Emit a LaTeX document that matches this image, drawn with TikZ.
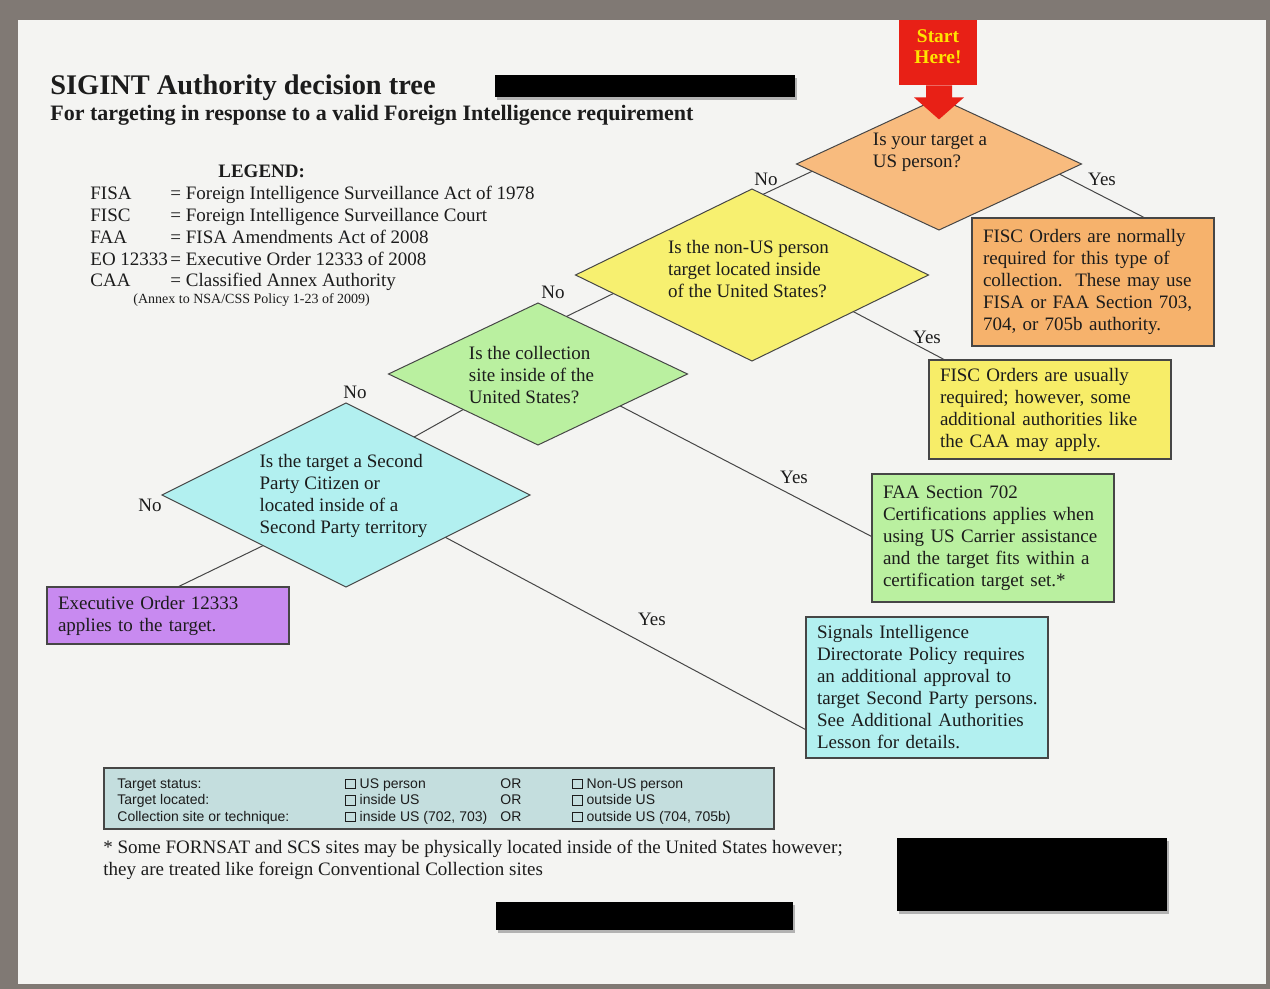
\documentclass[tikz,border=0pt]{standalone}
\usepackage{fontspec}
\setmainfont{Liberation Serif}
\setsansfont{Liberation Sans}
\usepackage{xcolor}
\definecolor{framegray}{RGB}{128,121,116}
\definecolor{paper}{RGB}{244,244,242}
\definecolor{ink}{RGB}{28,28,28}
\definecolor{edgegray}{RGB}{70,70,70}
\definecolor{qorange}{RGB}{248,187,126}
\definecolor{aorange}{RGB}{246,178,108}
\definecolor{qyellow}{RGB}{247,240,112}
\definecolor{ayellow}{RGB}{247,237,104}
\definecolor{qgreen}{RGB}{186,240,160}
\definecolor{qcyan}{RGB}{178,240,240}
\definecolor{apurple}{RGB}{200,138,240}
\definecolor{tablegray}{RGB}{196,222,222}
\definecolor{startred}{RGB}{232,32,22}
\definecolor{startyellow}{RGB}{255,228,0}
\usepackage{tikz}
\usetikzlibrary{calc}
\usetikzlibrary{shapes.geometric}
\newcommand{\bodyfont}{\fontsize{9.5}{11}\selectfont}
\newcommand{\tickbox}{{\setlength{\fboxsep}{0pt}\setlength{\fboxrule}{0.5pt}\fbox{\rule{0pt}{4.2pt}\rule{4.2pt}{0pt}}}}
\tikzset{
    txt/.style={font=\bodyfont, text=ink, inner sep=0pt},
    question/.style={draw=edgegray, line width=0.5pt, diamond, inner sep=0pt, outer sep=0pt},
    qtext/.style={txt, align=left},
    answer/.style={txt, draw=edgegray, line width=0.8pt, rectangle, anchor=north west, align=left, text width=110pt, inner xsep=5.5pt, outer sep=0pt},
    branch/.style={draw=edgegray, line width=0.5pt},
    yesno/.style={txt},
    rowtext/.style={font=\sffamily\fontsize{7}{8}\selectfont, text=ink, inner sep=0pt, anchor=base west},
    redact/.style={fill=black},
    redactshadow/.style={fill=black!30},
}

\begin{document}
\begin{tikzpicture}[x=0.5pt, y=-0.5pt]
    \useasboundingbox (0,0) rectangle (1270,989);
    \fill[framegray] (0,0) rectangle (1270,989);
    \fill[paper] (18,20) rectangle (1266,984);

    % heading and legend
    \node[txt, anchor=base west, font={\fontsize{14.2}{16}\selectfont\bfseries}] (title) at (50,95) {SIGINT Authority decision tree};
    \node[txt, anchor=base west, font={\fontsize{11}{13}\selectfont\bfseries}] (subtitle) at (50,121) {For targeting in response to a valid Foreign Intelligence requirement};
    \node[txt, anchor=base west, font={\bodyfont\bfseries}] (legend) at (218,178) {LEGEND:};
    \foreach \abbr/\full [count=\i] in {FISA/Foreign Intelligence Surveillance Act of 1978, FISC/Foreign Intelligence Surveillance Court, FAA/FISA Amendments Act of 2008, EO 12333/Executive Order 12333 of 2008, CAA/Classified Annex Authority}
    {
        \node[txt, anchor=base west] (abbr\i) at (90,{178+21.8*\i}) {\abbr};
        \node[txt, anchor=base west] (full\i) at (170,{178+21.8*\i}) {= \full};
    }
    \node[txt, anchor=base west, font=\fontsize{7}{8}\selectfont] (annex) at (133,304) {(Annex to NSA/CSS Policy 1-23 of 2009)};

    % redactions
    \fill[redactshadow] (497,78) rectangle (797,100);
    \fill[redact] (495,75) rectangle (795,97);
    \fill[redactshadow] (899,841) rectangle (1169,914);
    \fill[redact] (897,838) rectangle (1167,911);
    \fill[redactshadow] (498,905) rectangle (795,933);
    \fill[redact] (496,902) rectangle (793,930);

    % questions
    \node[question, fill=qorange, minimum width=142.5pt, minimum height=66pt] (d1) at (939,164) {};
    \node[qtext] (q1) at (930,152) {Is your target a\\US person?};
    \node[question, fill=qyellow, minimum width=176.5pt, minimum height=86pt] (d2) at (752,275) {};
    \node[qtext] (q2) at (748.5,269) {Is the non-US person\\target located inside\\of the United States?};
    \node[question, fill=qgreen, minimum width=149.5pt, minimum height=71pt] (d3) at (538,374) {};
    \node[qtext] (q3) at (531.5,375) {Is the collection\\site inside of the\\United States?};
    \node[question, fill=qcyan, minimum width=184pt, minimum height=92pt] (d4) at (346,495) {};
    \node[qtext] (q4) at (343.5,496) {Is the target a Second\\Party Citizen or\\located inside of a\\Second Party territory};

    % start marker
    \node[fill=startred, minimum width=39pt, minimum height=32.5pt, inner sep=0pt, align=center, text=startyellow, text depth=6pt, font={\fontsize{9.7}{10.5}\selectfont\bfseries}] (start) at (938,52.5) {Start\\Here!};
    \fill[startred] ($(start.south)+(-12,0)$) -- ($(start.south)+(-12,12)$) -- ($(start.south)+(-24,12)$)
        -- ($(start.south)+(1,34)$) -- ($(start.south)+(26,12)$) -- ($(start.south)+(14,12)$) -- ($(start.south)+(14,0)$) -- cycle;

    % answers
    \node[answer, fill=aorange, minimum height=64pt] (a1) at (972,218) {FISC Orders are normally\\required for this type of\\collection.\ \ These may use\\FISA or FAA Section 703,\\704, or 705b authority.};
    \node[answer, fill=ayellow, minimum height=49.5pt] (a2) at (929,360) {FISC Orders are usually\\required; however, some\\additional authorities like\\the CAA may apply.};
    \node[answer, fill=qgreen, minimum height=64pt] (a3) at (872,474) {FAA Section 702\\Certifications applies when\\using US Carrier assistance\\and the target fits within a\\certification target set.*};
    \node[answer, fill=qcyan, minimum height=70.5pt] (a4) at (806,617) {Signals Intelligence\\Directorate Policy requires\\an additional approval to\\\mbox{target Second Party persons.}\\See Additional Authorities\\Lesson for details.};
    \node[answer, fill=apurple, minimum height=28.5pt] (a5) at (47,587) {Executive Order 12333\\applies to the target.};

    % branches
    \draw[branch] ($(d1.east)!0.154!(d1.south)$) -- ($(a1.north west)!0.715!(a1.north east)$);
    \draw[branch] ($(d1.west)!0.11!(d1.south)$) -- ($(d2.north)!0.0625!(d2.east)$);
    \draw[branch] ($(d2.east)!0.426!(d2.south)$) -- ($(a2.north west)!0.066!(a2.north east)$);
    \draw[branch] ($(d2.west)!0.215!(d2.south)$) -- ($(d3.north)!0.19!(d3.east)$);
    \draw[branch] ($(d3.east)!0.45!(d3.south)$) -- ($(a3.north west)!0.49!(a3.south west)$);
    \draw[branch] ($(d3.west)!0.5!(d3.south)$) -- ($(d4.north)!0.37!(d4.east)$);
    \draw[branch] ($(d4.east)!0.46!(d4.south)$) -- ($(a4.north west)!0.8!(a4.south west)$);
    \draw[branch] ($(d4.west)!0.55!(d4.south)$) -- ($(a5.north west)!0.54!(a5.north east)$);

    \node[yesno] (yes1) at (1102,179) {Yes};
    \node[yesno] (no1) at (766,179) {No};
    \node[yesno] (yes2) at (927,337) {Yes};
    \node[yesno] (no2) at (553,292) {No};
    \node[yesno] (yes3) at (794,477) {Yes};
    \node[yesno] (no3) at (355,392) {No};
    \node[yesno] (yes4) at (652,619) {Yes};
    \node[yesno] (no4) at (150,505) {No};

    % checklist
    \node[draw=edgegray, line width=0.8pt, fill=tablegray, anchor=north west, minimum width=335pt, minimum height=30.5pt, inner sep=0pt] (checklist) at (103,767) {};
    \foreach \what/\one/\other [count=\i] in {{Target status:}/{US person}/{Non-US person}, {Target located:}/{inside US}/{outside US}, {Collection site or technique:}/{inside US (702, 703)}/{outside US (704, 705b)}}
    {
        \node[rowtext] (what\i) at (117,{788+16.5*(\i-1)}) {\what};
        \node[rowtext] (one\i) at (345,{788+16.5*(\i-1)}) {\tickbox\ \one};
        \node[rowtext] (or\i) at (500,{788+16.5*(\i-1)}) {OR};
        \node[rowtext] (other\i) at (572,{788+16.5*(\i-1)}) {\tickbox\ \other};
    }
    \node[txt, anchor=north west, align=left] (footnote) at (103,840) {* Some FORNSAT and SCS sites may be physically located inside of the United States however;\\they are treated like foreign Conventional Collection sites};
\end{tikzpicture}
\end{document}
